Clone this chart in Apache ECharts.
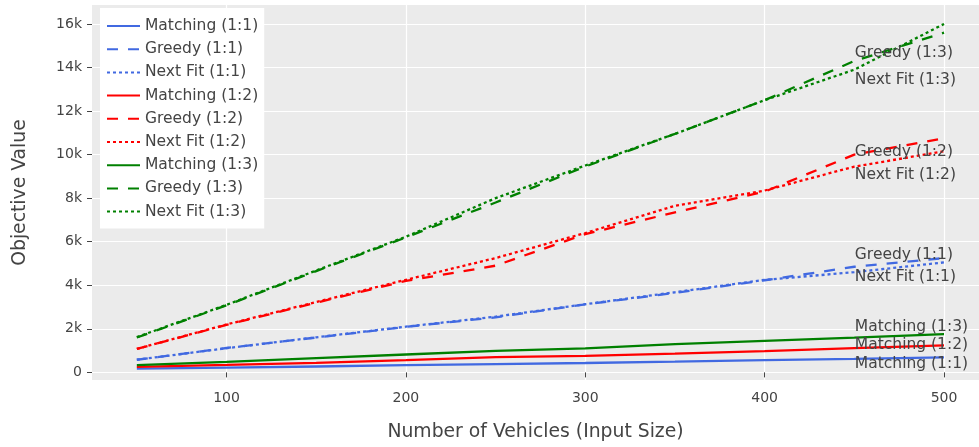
<!DOCTYPE html>
<html>
<head>
<meta charset="utf-8">
<script src="https://cdn.jsdelivr.net/npm/echarts@6/dist/echarts.min.js"></script>
<style>
  html, body { margin: 0; padding: 0; background: #fff; }
  #chart { width: 979px; height: 447px; }
</style>
</head>
<body>
<div id="chart"></div>
<script>
// input sizes (x)
const vehicles = [50, 100, 150, 200, 250, 300, 350, 400, 450, 500];

// objective values
const matching11 = [170, 220, 270, 330, 380, 430, 490, 560, 620, 690];
const greedy11   = [580, 1120, 1600, 2090, 2530, 3120, 3650, 4230, 4850, 5250];
const nextFit11  = [580, 1110, 1610, 2100, 2560, 3130, 3680, 4250, 4600, 5050];
const matching12 = [250, 340, 440, 560, 700, 760, 860, 980, 1110, 1240];
const greedy12   = [1080, 2180, 3200, 4200, 4900, 6350, 7350, 8300, 10000, 10750];
const nextFit12  = [1080, 2200, 3230, 4250, 5250, 6400, 7650, 8350, 9450, 10150];
const matching13 = [330, 480, 650, 820, 990, 1100, 1300, 1450, 1600, 1760];
const greedy13   = [1600, 3080, 4650, 6200, 7800, 9450, 10950, 12500, 14300, 15600];
const nextFit13  = [1620, 3100, 4680, 6230, 8000, 9500, 10950, 12500, 13900, 16000];

// text annotations next to the lines (x, y in data units)
const labelX = 450;
const labelY = {
    'Matching (1:1)': 390,
    'Greedy (1:1)': 5380,
    'Next Fit (1:1)': 4400,
    'Matching (1:2)': 1250,
    'Greedy (1:2)': 10120,
    'Next Fit (1:2)': 9080,
    'Matching (1:3)': 2100,
    'Greedy (1:3)': 14660,
    'Next Fit (1:3)': 13450
};

const xTicks = [100, 200, 300, 400, 500];
const yTicks = [0, 2000, 4000, 6000, 8000, 10000, 12000, 14000, 16000];

const FONT = 'DejaVu Sans';
const TXT = '#444';

const DASH = [11, 10];
const DOT = [3, 3];

const traces = [
    { name: 'Matching (1:1)', data: matching11, color: '#4169e1', dash: 'solid' },
    { name: 'Greedy (1:1)',   data: greedy11,   color: '#4169e1', dash: DASH },
    { name: 'Next Fit (1:1)', data: nextFit11,  color: '#4169e1', dash: DOT },
    { name: 'Matching (1:2)', data: matching12, color: '#ff0000', dash: 'solid' },
    { name: 'Greedy (1:2)',   data: greedy12,   color: '#ff0000', dash: DASH },
    { name: 'Next Fit (1:2)', data: nextFit12,  color: '#ff0000', dash: DOT },
    { name: 'Matching (1:3)', data: matching13, color: '#008000', dash: 'solid' },
    { name: 'Greedy (1:3)',   data: greedy13,   color: '#008000', dash: DASH },
    { name: 'Next Fit (1:3)', data: nextFit13,  color: '#008000', dash: DOT }
];

const chart = echarts.init(document.getElementById('chart'), null, { renderer: 'canvas' });

const option = {
    animation: false,
    textStyle: { fontFamily: FONT },
    grid: {
        left: 92, right: 0, top: 5, bottom: 66,
        show: true, backgroundColor: '#ebebeb', borderWidth: 0
    },
    legend: {
        orient: 'vertical',
        left: 100, top: 8,
        padding: [10, 6, 9, 6],
        backgroundColor: '#fff',
        itemWidth: 33, itemHeight: 16, itemGap: 7.2,
        itemStyle: { color: 'rgba(0,0,0,0)', borderWidth: 0, opacity: 0 },
        textStyle: { fontFamily: FONT, fontSize: 15.5, color: TXT, lineHeight: 16 },
        data: traces.map(t => t.name)
    },
    xAxis: {
        type: 'value',
        min: 25, max: 519.5,
        name: 'Number of Vehicles (Input Size)',
        nameLocation: 'middle', nameGap: 43,
        nameTextStyle: { fontFamily: FONT, fontSize: 18.8, color: TXT },
        axisLine: { show: false },
        axisTick: { show: true, length: 5, lineStyle: { color: TXT }, customValues: xTicks },
        axisLabel: { fontFamily: FONT, fontSize: 14, color: TXT, margin: 11, customValues: xTicks },
        splitLine: { show: true, lineStyle: { color: '#fff', width: 1.2 } }
    },
    yAxis: {
        type: 'value',
        min: -350, max: 16870,
        name: 'Objective Value',
        nameLocation: 'middle', nameGap: 62,
        nameTextStyle: { fontFamily: FONT, fontSize: 18.8, color: TXT },
        axisLine: { show: false },
        axisTick: { show: true, length: 5, lineStyle: { color: TXT }, customValues: yTicks },
        axisLabel: {
            fontFamily: FONT, fontSize: 14, color: TXT, margin: 10, customValues: yTicks,
            formatter: v => v === 0 ? '0' : (v / 1000) + 'k'
        },
        splitLine: { show: true, lineStyle: { color: '#fff', width: 1.2 } }
    },
    series: traces.map(t => ({
        name: t.name,
        type: 'line',
        symbol: 'none',
        color: t.color,
        lineStyle: { color: t.color, width: 2.3, type: t.dash },
        data: vehicles.map((x, i) => [x, t.data[i]]),
        markPoint: {
            symbol: 'circle',
            symbolSize: 1,
            itemStyle: { color: 'rgba(0,0,0,0)' },
            label: {
                show: true, position: 'right', distance: 0,
                formatter: t.name,
                fontFamily: FONT, fontSize: 15.5, color: TXT
            },
            data: [{ coord: [labelX, labelY[t.name]] }]
        }
    }))
};

chart.setOption(option);
</script>
</body>
</html>
